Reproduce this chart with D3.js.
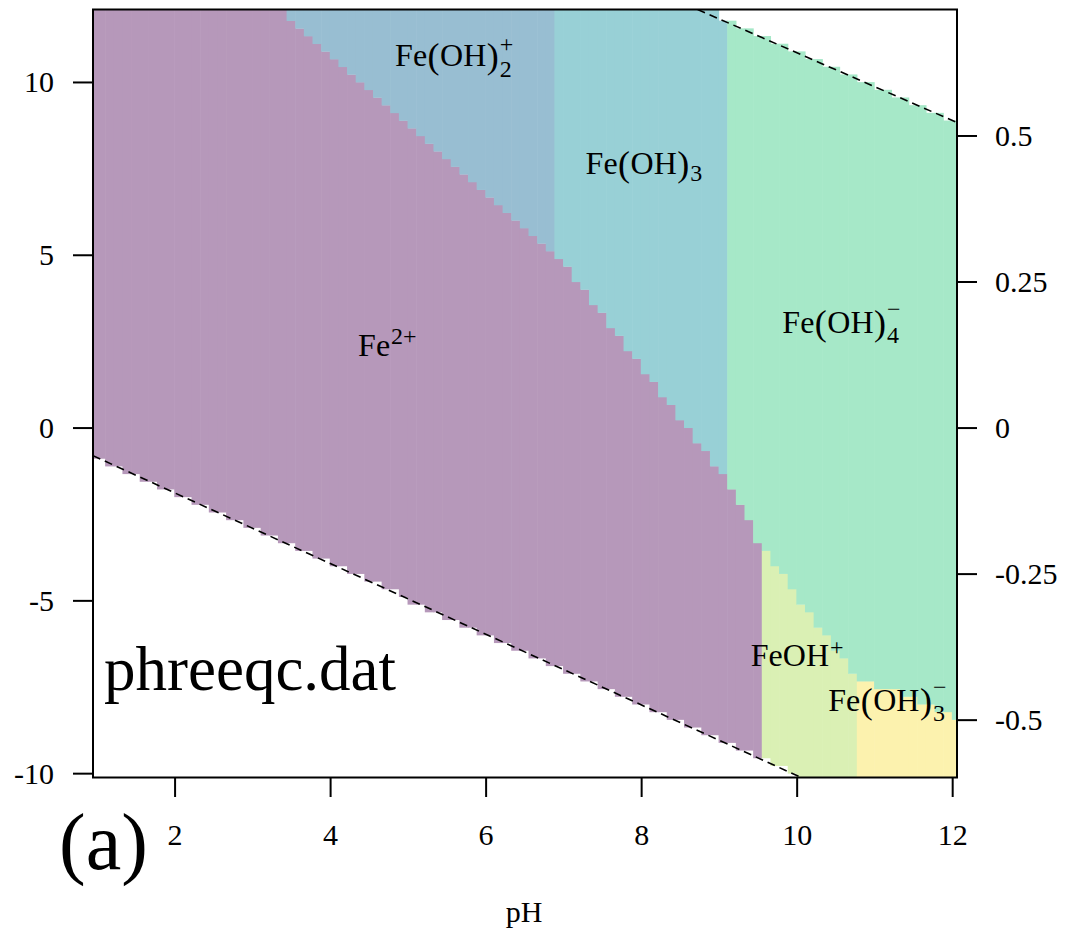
<!DOCTYPE html>
<html><head><meta charset="utf-8">
<script src="https://cdn.jsdelivr.net/npm/d3@7"></script>
<style>
body{margin:0;background:#fff}
svg{display:block}
text{font-family:"Liberation Serif","Times New Roman",serif;fill:#000}
</style>
</head><body>
<svg id="chart" width="1067" height="931"></svg>
<script>
// ---------------- data ----------------
const pHLimits = [1, 12];
const peLimits = [-10, 12];
const gridRes = 100;                       // resolution of the computed diagram
const pHTicks = [2, 4, 6, 8, 10, 12];
const peTicks = [-10, -5, 0, 5, 10];
const peTickLabels = ["-10", "-5", "0", "5", "10"];
const EhTicks = [-0.5, -0.25, 0, 0.25, 0.5];
const EhTickLabels = ["-0.5", "-0.25", "0", "0.25", "0.5"];
const species = ["Fe+2", "Fe(OH)2+", "Fe(OH)3", "Fe(OH)4-", "FeOH+", "Fe(OH)3-"];
const speciesColors = ["#b698ba", "#98bed2", "#98d0d6", "#a6e8c8", "#daf0b4", "#fcf2ae"];
// upper boundary of the Fe+2 field (pH, pe)
const fe2TopBoundary = [[3.36, 12.1], [6.885, 5.05], [9.094, -1.55], [9.532, -3.40]];
// upper boundary of the FeOH+ / Fe(OH)3- fields (pH, pe)
const feohTopBoundary = [[9.532, -3.40], [10.74, -7.15], [12.056, -8.40]];
// vertical boundaries: Fe(OH)2+|Fe(OH)3, Fe(OH)3|Fe(OH)4-, FeOH+|Fe(OH)3-
const verticalBoundaries = [6.885, 9.094, 10.74];
// water stability limits (pH, pe)
const upperWaterLine = [[8.72, 12.11], [12.056, 8.84]];
const lowerWaterLine = [[0.944, -0.80], [10.05, -10.11]];
// species label anchors (pH, pe)
const labelPH = [4.73, 5.59, 8.03, 10.57, 10.0, 11.16];
const labelPe = [2.09, 10.48, 7.36, 2.75, -6.88, -8.18];

// ---------------- scales ----------------
const dpH = (pHLimits[1] - pHLimits[0]) / (gridRes - 1);
const dpe = (peLimits[1] - peLimits[0]) / (gridRes - 1);
const x = d3.scaleLinear().domain([pHLimits[0] - dpH / 2, pHLimits[1] + dpH / 2]).range([93, 957]);
const y = d3.scaleLinear().domain([peLimits[0] - dpe / 2, peLimits[1] + dpe / 2]).range([777.5, 9.5]);
const EhFactor = 0.05916;
const yEh = d3.scaleLinear().domain(y.domain().map(d => d * EhFactor)).range(y.range());
const rasterShift = 3.5;   // raster image is offset slightly in the original rendering

const svg = d3.select("#chart");
const defs = svg.append("defs");
defs.append("clipPath").attr("id", "plotclip").append("rect")
  .attr("x", 93).attr("y", 9.5).attr("width", 864).attr("height", 768);

// ---------------- classification of grid cells ----------------
const fe2Poly = [[-5, 20], [fe2TopBoundary[0][0], 20], ...fe2TopBoundary, [fe2TopBoundary[fe2TopBoundary.length - 1][0], -20], [-5, -20]];
const lowPoly = [...feohTopBoundary, [20, feohTopBoundary[2][1]], [20, -20], [feohTopBoundary[0][0], -20]];
function lineAt(line, pH) {
  const [a, b] = line;
  return a[1] + (b[1] - a[1]) * (pH - a[0]) / (b[0] - a[0]);
}
function classify(pH, pe) {
  if (pe > lineAt(upperWaterLine, pH) || pe < lineAt(lowerWaterLine, pH)) return -1;
  if (d3.polygonContains(fe2Poly, [pH, pe])) return 0;
  if (d3.polygonContains(lowPoly, [pH, pe])) return pH < verticalBoundaries[2] ? 4 : 5;
  if (pH < verticalBoundaries[0]) return 1;
  if (pH < verticalBoundaries[1]) return 2;
  return 3;
}
const runs = [];
d3.range(gridRes).forEach(i => {
  const gpH = pHLimits[0] + i * dpH;
  const cpH = x.invert(x(gpH) + rasterShift);      // drawn centre of the column
  let cur = null;
  d3.range(gridRes).forEach(j => {
    const gpe = peLimits[0] + j * dpe;
    const cpe = y.invert(y(gpe) + rasterShift);    // drawn centre of the row
    const s = classify(cpH, cpe);
    if (cur && cur.s === s) { cur.pe1 = gpe; }
    else {
      if (cur && cur.s >= 0) runs.push(cur);
      cur = { s, i, pH: gpH, pe0: gpe, pe1: gpe };
    }
  });
  if (cur && cur.s >= 0) runs.push(cur);
});

const gCells = svg.append("g").attr("clip-path", "url(#plotclip)");
gCells.selectAll("rect").data(runs).join("rect")
  .attr("x", d => d.i === 0 ? 90 : x(d.pH - dpH / 2) + rasterShift)
  .attr("width", d => (d.i === 0 ? x(d.pH + dpH / 2) + rasterShift - 90 : x(d.pH + dpH / 2) - x(d.pH - dpH / 2)) + 0.6)
  .attr("y", d => d.pe1 >= peLimits[1] ? 5 : y(d.pe1 + dpe / 2) + rasterShift)
  .attr("height", d => y(d.pe0 - dpe / 2) + rasterShift - (d.pe1 >= peLimits[1] ? 5 : y(d.pe1 + dpe / 2) + rasterShift) + 0.3)
  .attr("fill", d => speciesColors[d.s]);

// water lines
const line = d3.line().x(d => x(d[0])).y(d => y(d[1]));
const gWater = svg.append("g").attr("clip-path", "url(#plotclip)");
[upperWaterLine, lowerWaterLine].forEach(l => {
  gWater.append("path").attr("d", line(l)).attr("fill", "none")
    .attr("stroke", "#000").attr("stroke-width", 1.6).attr("stroke-dasharray", "8,5");
});

// ---------------- labels ----------------
const SCRIPT = 24;
const parenBase = [["b", "Fe"], ["p", "("], ["b", "OH"], ["p", ")"]];
const labelSpec = [
  { base: [["b", "Fe"]], sup: ["2+", -12] },
  { base: parenBase, sup: ["+", -14], sub: ["2", 11] },
  { base: parenBase, sub: ["3", 7] },
  { base: parenBase, sup: ["\u2212", -16], sub: ["4", 10] },
  { base: [["b", "FeOH"]], sup: ["+", -11] },
  { base: parenBase, sup: ["\u2212", -16], sub: ["3", 10] }
];
const gLab = svg.append("g");
species.forEach((sp, k) => {
  const spec = labelSpec[k];
  const g = gLab.append("g");
  const t = g.append("text").attr("x", 0).attr("y", 0).attr("font-size", 32);
  let curDy = 0;
  spec.base.forEach((p, idx) => {
    const ts = t.append("tspan").text(p[1]);
    if (p[0] === "p") { ts.attr("dx", 0.5).attr("font-size", 36).attr("dy", 2 - curDy); curDy = 2; }
    else {
      if (idx > 0) ts.attr("dx", 0.5);
      if (curDy !== 0) { ts.attr("dy", -curDy); curDy = 0; }
    }
  });
  const wBase = t.node().getBBox().width;
  let wScript = 0;
  [spec.sup, spec.sub].forEach(s => {
    if (!s) return;
    const st = g.append("text").attr("x", wBase + 1).attr("y", s[1])
      .attr("font-size", SCRIPT).text(s[0]);
    wScript = Math.max(wScript, st.node().getComputedTextLength());
  });
  const total = wBase + 1 + wScript;
  g.attr("transform", `translate(${x(labelPH[k]) - total / 2},${y(labelPe[k])})`);
});

// ---------------- frame and axes ----------------
svg.append("rect").attr("x", 93).attr("y", 9.5).attr("width", 864).attr("height", 768)
  .attr("fill", "none").attr("stroke", "#000").attr("stroke-width", 2);

const gAx = svg.append("g").attr("stroke", "#000").attr("stroke-width", 2);
gAx.selectAll(".bt").data(pHTicks).join("line").attr("class", "bt")
  .attr("x1", d => x(d)).attr("x2", d => x(d)).attr("y1", 777.5).attr("y2", 797);
gAx.selectAll(".lt").data(peTicks).join("line").attr("class", "lt")
  .attr("x1", 73).attr("x2", 93).attr("y1", d => y(d)).attr("y2", d => y(d));
gAx.selectAll(".rt").data(EhTicks).join("line").attr("class", "rt")
  .attr("x1", 957).attr("x2", 977).attr("y1", d => yEh(d)).attr("y2", d => yEh(d));

const gT = svg.append("g").attr("font-size", 30);
gT.selectAll(".bl").data(pHTicks).join("text").attr("class", "bl")
  .attr("x", d => x(d)).attr("y", 845).attr("text-anchor", "middle").text(d => d);
gT.selectAll(".ll").data(peTicks).join("text").attr("class", "ll")
  .attr("x", 54).attr("y", d => y(d) + 10).attr("text-anchor", "end").text((d, i) => peTickLabels[i]);
gT.selectAll(".rl").data(EhTicks).join("text").attr("class", "rl")
  .attr("x", 995).attr("y", d => yEh(d) + 10).attr("text-anchor", "start").text((d, i) => EhTickLabels[i]);

svg.append("text").attr("x", 524).attr("y", 922).attr("text-anchor", "middle")
  .attr("font-size", 30).text("pH");
svg.append("text").attr("x", 104).attr("y", 690).attr("font-size", 63).text("phreeqc.dat");
svg.append("text").attr("x", 59).attr("y", 869).attr("font-size", 80).text("(a)");
</script>
</body></html>
